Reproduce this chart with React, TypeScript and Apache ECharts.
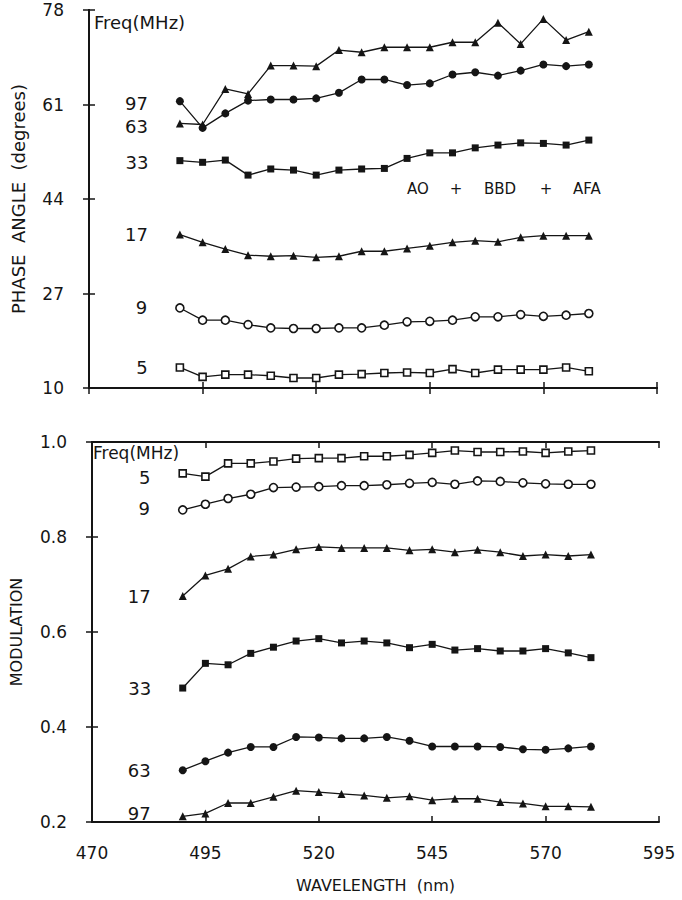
import React, { useEffect, useRef } from "react";
import * as echarts from "echarts";

// Wavelengths (nm) at which both quantities were measured
const WAVELENGTHS = [490, 495, 500, 505, 510, 515, 520, 525, 530, 535, 540, 545, 550, 555, 560, 565, 570, 575, 580];

// Phase angle (degrees) per modulation frequency
const PHASE_97 = [57.6, 57.4, 63.8, 62.9, 68.0, 68.0, 67.9, 70.8, 70.4, 71.3, 71.3, 71.3, 72.2, 72.2, 75.7, 71.9, 76.4, 72.6, 74.1];
const PHASE_63 = [61.6, 56.8, 59.4, 61.7, 61.9, 61.9, 62.1, 63.1, 65.5, 65.5, 64.5, 64.8, 66.4, 66.8, 66.2, 67.1, 68.2, 67.9, 68.2];
const PHASE_33 = [50.9, 50.6, 51.0, 48.3, 49.4, 49.2, 48.3, 49.2, 49.4, 49.5, 51.3, 52.3, 52.3, 53.2, 53.7, 54.1, 54.0, 53.7, 54.6];
const PHASE_17 = [37.6, 36.2, 35.0, 33.9, 33.7, 33.8, 33.5, 33.7, 34.6, 34.6, 35.1, 35.6, 36.2, 36.5, 36.3, 37.1, 37.4, 37.4, 37.4];
const PHASE_9 = [24.4, 22.2, 22.2, 21.4, 20.8, 20.7, 20.7, 20.8, 20.8, 21.3, 21.9, 22.0, 22.2, 22.8, 22.8, 23.2, 22.9, 23.1, 23.4];
const PHASE_5 = [13.7, 12.0, 12.4, 12.4, 12.2, 11.8, 11.8, 12.4, 12.5, 12.7, 12.8, 12.7, 13.4, 12.7, 13.3, 13.3, 13.3, 13.7, 13.0];

// Modulation per modulation frequency
const MOD_5 = [0.934, 0.927, 0.955, 0.955, 0.959, 0.965, 0.966, 0.966, 0.970, 0.970, 0.973, 0.977, 0.982, 0.979, 0.979, 0.980, 0.977, 0.980, 0.982];
const MOD_9 = [0.857, 0.869, 0.881, 0.890, 0.904, 0.905, 0.906, 0.908, 0.908, 0.910, 0.913, 0.915, 0.911, 0.918, 0.917, 0.914, 0.912, 0.911, 0.911];
const MOD_17 = [0.676, 0.719, 0.733, 0.759, 0.763, 0.774, 0.779, 0.777, 0.777, 0.777, 0.772, 0.774, 0.768, 0.773, 0.768, 0.760, 0.763, 0.760, 0.763];
const MOD_33 = [0.482, 0.534, 0.531, 0.555, 0.568, 0.581, 0.586, 0.577, 0.581, 0.577, 0.567, 0.574, 0.562, 0.565, 0.560, 0.560, 0.565, 0.556, 0.546];
const MOD_63 = [0.309, 0.328, 0.346, 0.358, 0.358, 0.379, 0.378, 0.376, 0.376, 0.379, 0.371, 0.359, 0.359, 0.359, 0.358, 0.353, 0.352, 0.355, 0.359];
const MOD_97 = [0.212, 0.218, 0.240, 0.240, 0.253, 0.266, 0.263, 0.259, 0.256, 0.251, 0.254, 0.246, 0.249, 0.249, 0.242, 0.239, 0.233, 0.233, 0.232];

// Axis ranges and ticks
const X_MIN = 470;
const X_MAX = 595;
const X_STEP = 25;
const PHASE_MIN = 10;
const PHASE_MAX = 78;
const PHASE_STEP = 17;
const MOD_MIN = 0.2;
const MOD_MAX = 1.0;
const MOD_STEP = 0.2;

const FONT = "DejaVu Sans";
const INK = "#151515";

type Spec = { label: string; values: number[]; symbol: string; open: boolean; dy: number };

const PHASE_SERIES: Spec[] = [
  { label: "63", values: PHASE_97, symbol: "triangle", open: false, dy: 3 },
  { label: "97", values: PHASE_63, symbol: "circle", open: false, dy: 2 },
  { label: "33", values: PHASE_33, symbol: "rect", open: false, dy: 2 },
  { label: "17", values: PHASE_17, symbol: "triangle", open: false, dy: 0 },
  { label: "9", values: PHASE_9, symbol: "circle", open: true, dy: 0 },
  { label: "5", values: PHASE_5, symbol: "rect", open: true, dy: 0 },
];

const MOD_SERIES: Spec[] = [
  { label: "5", values: MOD_5, symbol: "rect", open: true, dy: 4 },
  { label: "9", values: MOD_9, symbol: "circle", open: true, dy: -1 },
  { label: "17", values: MOD_17, symbol: "triangle", open: false, dy: 1 },
  { label: "33", values: MOD_33, symbol: "rect", open: false, dy: 0 },
  { label: "63", values: MOD_63, symbol: "circle", open: false, dy: 0 },
  { label: "97", values: MOD_97, symbol: "triangle", open: false, dy: -3 },
];

function buildSeries(specs: Spec[], axisIdx: number, yOffset: number) {
  return specs.map((s) => ({
    type: "line",
    name: s.label + " MHz",
    xAxisIndex: axisIdx,
    yAxisIndex: axisIdx,
    symbol: s.symbol,
    symbolSize: s.symbol === "rect" ? 7 : 8,
    showSymbol: true,
    lineStyle: { color: INK, width: 1.3 },
    itemStyle: {
      color: s.open ? "#ffffff" : INK,
      borderColor: INK,
      borderWidth: s.open ? 1.6 : 0,
    },
    z: 3,
    data: s.values.map((v, i) => {
      const value = [WAVELENGTHS[i] - X_MIN, v - yOffset];
      if (i !== 0) return value;
      return {
        value,
        label: {
          show: true,
          position: "left",
          distance: 28,
          offset: [0, s.dy],
          formatter: s.label,
          fontFamily: FONT,
          fontSize: 18,
          color: INK,
        },
      };
    }),
  }));
}

function frameAxes(gridIndex: number, showLabels: boolean) {
  const common = {
    gridIndex,
    type: "value",
    min: 0,
    max: X_MAX - X_MIN,
    interval: X_STEP,
    axisLine: { show: true, lineStyle: { color: INK, width: 2 } },
    axisTick: { show: true, inside: true, length: 6, lineStyle: { color: INK, width: 1.5 } },
    splitLine: { show: false },
  };
  return [
    {
      ...common,
      position: "bottom",
      axisLabel: {
        show: showLabels,
        margin: 22,
        fontFamily: FONT,
        fontSize: 17,
        color: INK,
        formatter: (v: number) => String(v + X_MIN),
      },
      name: showLabels ? "WAVELENGTH  (nm)" : "",
      nameLocation: "middle",
      nameGap: 55,
      nameTextStyle: { fontFamily: FONT, fontSize: 16, color: INK },
    },
    { ...common, position: "top", axisLabel: { show: false } },
  ];
}

export default function App() {
  const ref = useRef<HTMLDivElement>(null);

  useEffect(() => {
    if (!ref.current) return;
    const chart = echarts.init(ref.current, undefined, { renderer: "svg" });

    const yLine = { show: true, lineStyle: { color: INK, width: 2 } };
    const yTick = { show: true, inside: true, length: 6, lineStyle: { color: INK, width: 1.5 } };
    const yLabel = { margin: 25, fontFamily: FONT, fontSize: 17, color: INK };
    const yName = { fontFamily: FONT, fontSize: 18, color: INK };

    const phaseSeries = buildSeries(PHASE_SERIES, 0, PHASE_MIN);
    const modSeries = buildSeries(MOD_SERIES, 2, 0);

    const textStyle = (text: string, size: number, align = "left") => ({
      text,
      fontFamily: FONT,
      fontSize: size,
      fill: INK,
      align,
      verticalAlign: "middle",
    });

    const option: any = {
      animation: false,
      backgroundColor: "#ffffff",
      grid: [
        { left: 89, right: 25, top: 10, height: 378 },
        { left: 90, right: 23, top: 442, height: 380 },
      ],
      xAxis: [...frameAxes(0, false), ...frameAxes(1, true)],
      yAxis: [
        {
          gridIndex: 0,
          type: "value",
          position: "left",
          min: 0,
          max: PHASE_MAX - PHASE_MIN,
          interval: PHASE_STEP,
          axisLine: yLine,
          axisTick: yTick,
          splitLine: { show: false },
          axisLabel: { ...yLabel, formatter: (v: number) => String(v + PHASE_MIN) },
          name: "PHASE  ANGLE  (degrees)",
          nameLocation: "middle",
          nameGap: 62,
          nameTextStyle: yName,
        },
        {
          gridIndex: 0,
          type: "value",
          position: "right",
          min: 0,
          max: PHASE_MAX - PHASE_MIN,
          interval: PHASE_STEP,
          axisLine: yLine,
          axisTick: yTick,
          splitLine: { show: false },
          axisLabel: { show: false },
        },
        {
          gridIndex: 1,
          type: "value",
          position: "left",
          min: MOD_MIN,
          max: MOD_MAX,
          interval: MOD_STEP,
          axisLine: yLine,
          axisTick: yTick,
          splitLine: { show: false },
          axisLabel: { ...yLabel, formatter: (v: number) => v.toFixed(1) },
          name: "MODULATION",
          nameLocation: "middle",
          nameGap: 68,
          nameTextStyle: { ...yName, fontSize: 16 },
        },
        {
          gridIndex: 1,
          type: "value",
          position: "right",
          min: MOD_MIN,
          max: MOD_MAX,
          interval: MOD_STEP,
          axisLine: yLine,
          axisTick: yTick,
          splitLine: { show: false },
          axisLabel: { show: false },
        },
      ],
      series: [
        ...phaseSeries,
        ...modSeries.map((s: any) => ({ ...s, xAxisIndex: 2, yAxisIndex: 2 })),
      ],
      graphic: [
        { type: "text", x: 94, y: 22, style: textStyle("Freq(MHz)", 18) },
        { type: "text", x: 93, y: 453, style: textStyle("Freq(MHz)", 17) },
        { type: "text", x: 407, y: 189, style: textStyle("AO", 15) },
        { type: "text", x: 456, y: 189, style: textStyle("+", 15, "center") },
        { type: "text", x: 484, y: 189, style: textStyle("BBD", 15) },
        { type: "text", x: 546, y: 189, style: textStyle("+", 15, "center") },
        { type: "text", x: 573, y: 189, style: textStyle("AFA", 15) },
      ],
    };

    chart.setOption(option);
    return () => chart.dispose();
  }, []);

  return (
    <div
      ref={ref}
      style={{ position: "absolute", left: 0, top: 0, width: 682, height: 900, background: "#fff" }}
    />
  );
}
